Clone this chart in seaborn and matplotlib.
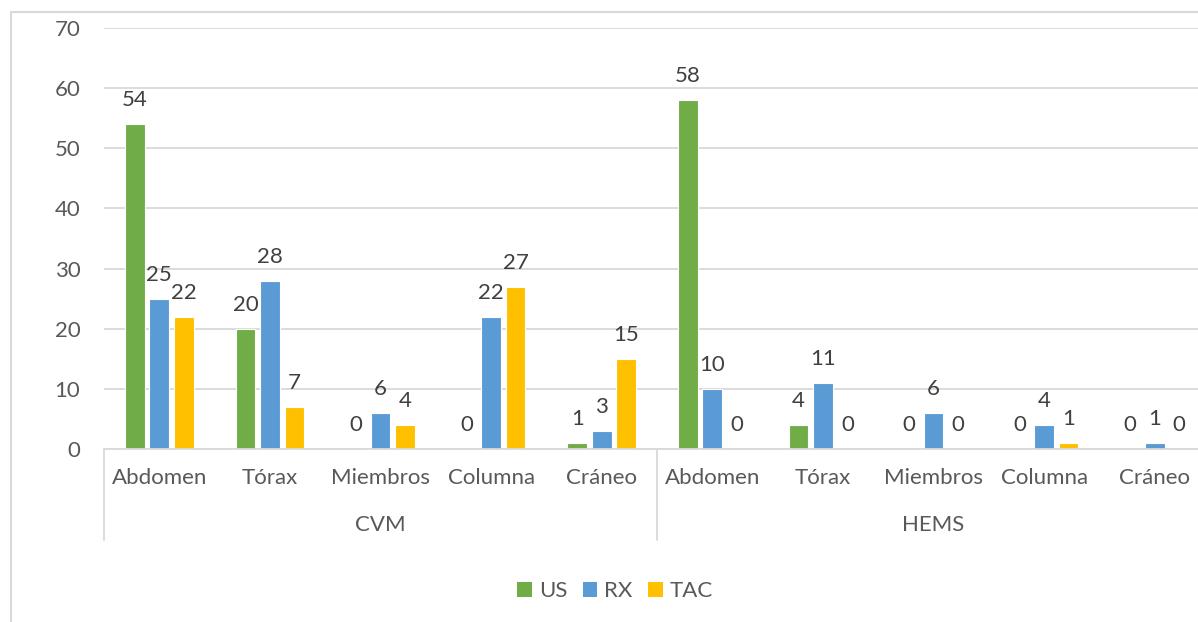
import matplotlib
matplotlib.use("Agg")
import matplotlib.pyplot as plt
import seaborn as sns
import pandas as pd
from matplotlib.lines import Line2D
from matplotlib.patches import Rectangle

groups = ["CVM", "HEMS"]
categories = ["Abdomen", "Tórax", "Miembros", "Columna", "Cráneo"]
series = ["US", "RX", "TAC"]
us_vals = [54, 20, 0, 0, 1, 58, 4, 0, 0, 0]
rx_vals = [25, 28, 6, 22, 3, 10, 11, 6, 4, 1]
tac_vals = [22, 7, 4, 27, 15, 0, 0, 0, 1, 0]
colors = ["#70AD47", "#5B9BD5", "#FFC000"]
yticks = [0, 10, 20, 30, 40, 50, 60, 70]

rows = []
keys = []
for gi, g in enumerate(groups):
    for ci, c in enumerate(categories):
        k = f"{g}|{c}"
        keys.append(k)
        idx = gi * len(categories) + ci
        for s, vals in zip(series, [us_vals, rx_vals, tac_vals]):
            rows.append({"key": k, "series": s, "value": vals[idx]})
df = pd.DataFrame(rows)

sns.set_theme(style="white")
plt.rcParams["font.family"] = ["Lato", "DejaVu Sans"]
text_color = "#595959"
grid_color = "#D9D9D9"
fs = 16

W, H = 1198, 622
fig = plt.figure(figsize=(W / 100, H / 100), dpi=100)
ax_left, ax_right = 104 / W, 1210 / W
ax_bottom, ax_top = 1 - 449 / H, 1 - 28 / H
ax = fig.add_axes([ax_left, ax_bottom, ax_right - ax_left, ax_top - ax_bottom])

sns.barplot(data=df, x="key", y="value", hue="series", order=keys,
            hue_order=series, palette=colors, saturation=1, width=0.665, gap=0.2,
            edgecolor="white", linewidth=0.8, ax=ax, legend=False)

for cont in ax.containers:
    ax.bar_label(cont, fmt="%d", padding=10, fontsize=fs, color="#404040")

ax.set_xlim(-0.5, len(keys) - 0.5)
ax.set_ylim(0, 70)
ax.set_yticks(yticks)
ax.set_yticklabels([str(v) for v in yticks], fontsize=fs, color=text_color)
ax.tick_params(axis="y", length=0, pad=17)
ax.set_xticks(range(len(keys)))
ax.set_xticklabels(categories * len(groups), fontsize=fs, color=text_color)
ax.tick_params(axis="x", length=0, pad=14)
ax.set_xlabel("")
ax.set_ylabel("")
ax.yaxis.grid(True, color=grid_color, linewidth=1.3)
ax.set_axisbelow(True)
for side in ["top", "right", "left"]:
    ax.spines[side].set_visible(False)
ax.spines["bottom"].set_color(grid_color)
ax.spines["bottom"].set_linewidth(1.3)

# group separators and group labels
trans = ax.get_xaxis_transform()
n = len(categories)
span = 449 - 28
for gi, g in enumerate(groups):
    xs = gi * n - 0.5
    ax.add_line(Line2D([xs, xs], [0, -91 / span], transform=trans,
                       color=grid_color, linewidth=1.3, clip_on=False))
    ax.text(gi * n + (n - 1) / 2, -76 / span, g, transform=trans,
            ha="center", va="center", fontsize=fs, color=text_color)
xs = len(groups) * n - 0.5
ax.add_line(Line2D([xs, xs], [0, -91 / span], transform=trans,
                   color=grid_color, linewidth=1.3, clip_on=False))

# legend
handles = [Rectangle((0, 0), 1, 1, facecolor=c, edgecolor="none") for c in colors]
fig.legend(handles, series, loc="center", bbox_to_anchor=(615 / W, 1 - 591 / H),
           ncol=3, frameon=False, fontsize=fs, handlelength=0.66,
           handleheight=0.66, handletextpad=0.3, columnspacing=0.7,
           labelcolor=text_color)

# outer chart frame
fig.add_artist(Line2D([11 / W, 11 / W], [0, 1 - 12 / H], transform=fig.transFigure,
                      color=grid_color, linewidth=1.5))
fig.add_artist(Line2D([11 / W, 1], [1 - 12 / H, 1 - 12 / H], transform=fig.transFigure,
                      color=grid_color, linewidth=1.5))

fig.savefig("out.png", dpi=100, facecolor="white")
